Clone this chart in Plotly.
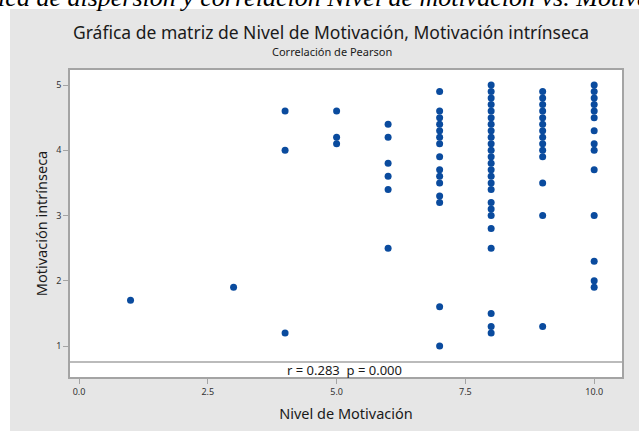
import plotly.graph_objects as go

# ---- data ----
nivel_1 = [1]
mot_1 = [1.7]
nivel_3 = [3]
mot_3 = [1.9]
nivel_4 = [4, 4, 4]
mot_4 = [4.6, 4.0, 1.2]
nivel_5 = [5, 5, 5]
mot_5 = [4.6, 4.2, 4.1]
nivel_6 = [6] * 6
mot_6 = [4.4, 4.2, 3.8, 3.6, 3.4, 2.5]
mot_7 = [4.9, 4.6, 4.5, 4.4, 4.3, 4.2, 4.1, 3.9, 3.7, 3.6, 3.5, 3.3, 3.2, 1.6, 1.0]
nivel_7 = [7] * len(mot_7)
mot_8 = [5.0, 4.9, 4.8, 4.7, 4.6, 4.5, 4.4, 4.3, 4.2, 4.1, 4.0, 3.9, 3.8, 3.7, 3.6,
         3.5, 3.4, 3.2, 3.1, 3.0, 2.8, 2.5, 1.5, 1.3, 1.2]
nivel_8 = [8] * len(mot_8)
mot_9 = [4.9, 4.8, 4.7, 4.6, 4.5, 4.4, 4.3, 4.2, 4.1, 4.0, 3.9, 3.5, 3.0, 1.3]
nivel_9 = [9] * len(mot_9)
mot_10 = [5.0, 4.9, 4.8, 4.7, 4.6, 4.5, 4.3, 4.1, 4.0, 3.7, 3.0, 2.3, 2.0, 1.9]
nivel_10 = [10] * len(mot_10)

x_vals = nivel_1 + nivel_3 + nivel_4 + nivel_5 + nivel_6 + nivel_7 + nivel_8 + nivel_9 + nivel_10
y_vals = mot_1 + mot_3 + mot_4 + mot_5 + mot_6 + mot_7 + mot_8 + mot_9 + mot_10

x_ticks = [0, 2.5, 5, 7.5, 10]
x_tick_labels = ["0.0", "2.5", "5.0", "7.5", "10.0"]
y_ticks = [1, 2, 3, 4, 5]

caption = "Gráfica de dispersión y correlación Nivel de motivación vs. Motivación intrínseca"
title = "Gráfica de matriz de Nivel de Motivación, Motivación intrínseca"
subtitle = "Correlación de Pearson"
stats_text = "r = 0.283  p = 0.000"

# ---- layout geometry (pixels) ----
W, H = 639, 431
L, R, T, B = 70, 17, 70, 54
PW, PH = W - L - R, H - T - B

def px(xp):
    return (xp - L) / PW

def py(yp):
    return (H - B - yp) / PH

FONT = "Noto Sans"
BLUE = "#0a4b9e"
GRAY = "#e6e6e6"
FRAME = "#a4a4a4"

y_lo, y_hi = 0.525, 5.23
sep_y = 0.755

fig = go.Figure()
fig.add_trace(go.Scatter(
    x=x_vals, y=y_vals, mode="markers",
    marker=dict(color=BLUE, size=7, line=dict(width=0)),
    showlegend=False, hoverinfo="x+y",
))

shapes = [
    # white strips at top and left (page background outside the chart panel)
    dict(type="rect", xref="paper", yref="paper", x0=px(-5), x1=px(W + 5), y0=py(9), y1=py(-5),
         fillcolor="white", line=dict(width=0), layer="below"),
    dict(type="rect", xref="paper", yref="paper", x0=px(-5), x1=px(10), y0=py(H + 5), y1=py(-5),
         fillcolor="white", line=dict(width=0), layer="below"),
    # separator line for the statistics band
    dict(type="line", xref="paper", yref="y", x0=0, x1=1, y0=sep_y, y1=sep_y,
         line=dict(color=FRAME, width=1.5)),
]

annotations = [
    dict(text="<i>" + caption + "</i>", xref="paper", yref="paper", x=px(-53), y=py(14),
         xanchor="left", yanchor="bottom", showarrow=False,
         font=dict(family="Liberation Serif", size=26, color="black")),
    dict(text=title, xref="paper", yref="paper", x=px(331), y=py(32),
         xanchor="center", yanchor="middle", showarrow=False,
         font=dict(family=FONT, size=17.5, color="#1a1a1a")),
    dict(text=subtitle, xref="paper", yref="paper", x=px(332), y=py(52),
         xanchor="center", yanchor="middle", showarrow=False,
         font=dict(family=FONT, size=11, color="#1a1a1a")),
    dict(text=stats_text, xref="paper", yref="y", x=px(344), y=(y_lo + sep_y) / 2,
         xanchor="center", yanchor="middle", showarrow=False,
         font=dict(family=FONT, size=13, color="#1a1a1a")),
]

fig.update_layout(
    width=W, height=H,
    margin=dict(l=L, r=R, t=T, b=B, pad=0),
    paper_bgcolor=GRAY, plot_bgcolor="white",
    shapes=shapes, annotations=annotations,
    font=dict(family=FONT, color="#1a1a1a"),
)
fig.update_xaxes(
    range=[-0.175, 10.54], tickvals=x_ticks, ticktext=x_tick_labels,
    ticks="outside", ticklen=5, tickcolor=FRAME, tickwidth=1,
    showgrid=False, zeroline=False,
    showline=True, mirror=True, linecolor=FRAME, linewidth=1.5,
    tickfont=dict(size=9, color="#333333"),
    title=dict(text="Nivel de Motivación", font=dict(size=14.5, color="#1a1a1a"), standoff=12),
)
fig.update_yaxes(
    range=[y_lo, y_hi], tickvals=y_ticks,
    ticks="outside", ticklen=5, tickcolor=FRAME, tickwidth=1,
    showgrid=False, zeroline=False,
    showline=True, mirror=True, linecolor=FRAME, linewidth=1.5,
    tickfont=dict(size=9, color="#333333"),
    title=dict(text="Motivación intrínseca", font=dict(size=14.5, color="#1a1a1a"), standoff=5),
)

fig.write_html(
    "out.html",
    config={"displayModeBar": False},
    post_script="document.body.style.margin='0px';document.body.style.overflow='hidden';",
)
